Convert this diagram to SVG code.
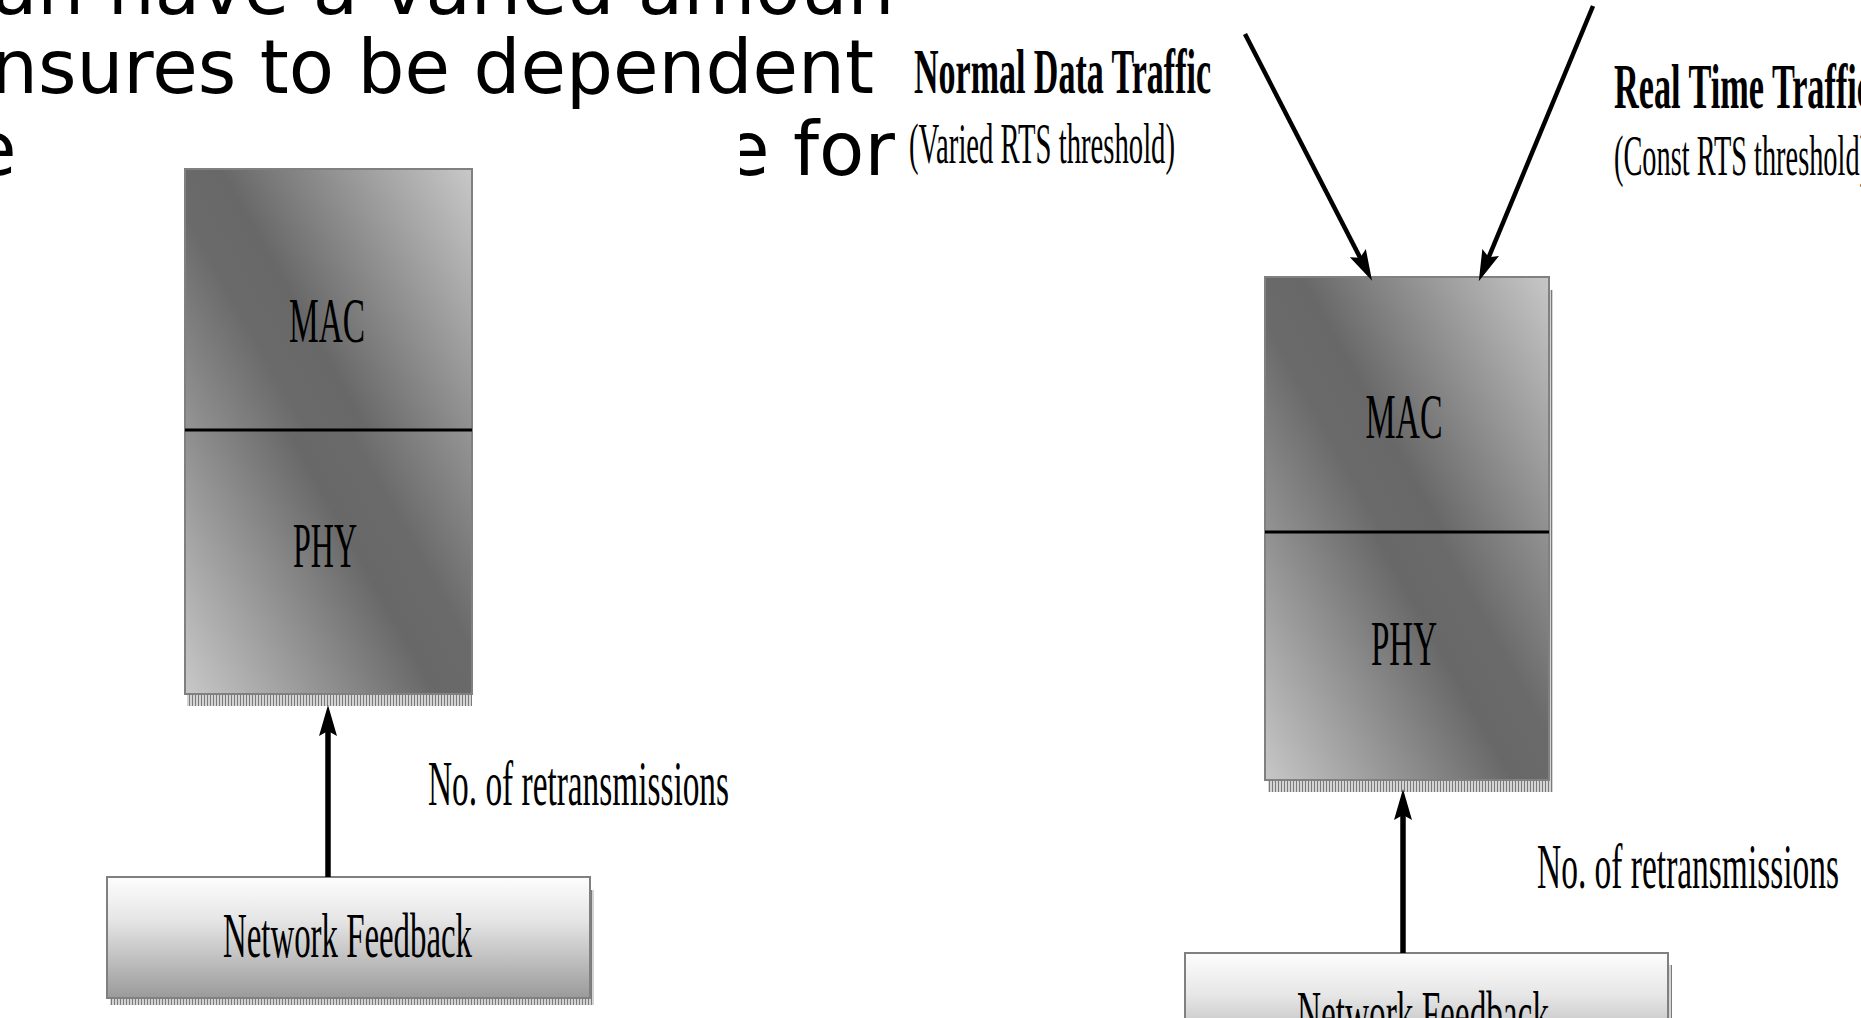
<svg xmlns="http://www.w3.org/2000/svg" width="1861" height="1018" viewBox="0 0 1861 1018">
  <style>
    .body { font-family: "DejaVu Sans", sans-serif; font-size: 74px; fill: #000; }
    .lbl { font-family: "Liberation Serif", "Times New Roman", serif; font-size: 64px; fill: #000; }
    .sub { font-size: 57px; }
    .bold { font-weight: bold; }
    .box { stroke: #808080; stroke-width: 2; }
    .divider { stroke: #000; stroke-width: 3; }
    .conn { stroke: #000; fill: none; stroke-linecap: butt; }
    .shadow { fill: url(#hatch); }
  </style>
  <defs>
    <!-- MAC/PHY stack shading: broad dark diagonal band, light towards one corner -->
    <linearGradient id="gMacL" gradientUnits="userSpaceOnUse" x1="74" y1="231" x2="404" y2="47">
      <stop offset="0" stop-color="#959595"/>
      <stop offset="0.28" stop-color="#6a6a6a"/>
      <stop offset="0.42" stop-color="#686868"/>
      <stop offset="1" stop-color="#c8c8c8"/>
    </linearGradient>
    <linearGradient id="gPhyL" gradientUnits="userSpaceOnUse" x1="583" y1="632" x2="253" y2="816">
      <stop offset="0" stop-color="#959595"/>
      <stop offset="0.28" stop-color="#6a6a6a"/>
      <stop offset="0.42" stop-color="#686868"/>
      <stop offset="1" stop-color="#c8c8c8"/>
    </linearGradient>
    <linearGradient id="gMacR" gradientUnits="userSpaceOnUse" x1="1154" y1="339" x2="1484" y2="155">
      <stop offset="0" stop-color="#959595"/>
      <stop offset="0.28" stop-color="#6a6a6a"/>
      <stop offset="0.42" stop-color="#686868"/>
      <stop offset="1" stop-color="#c8c8c8"/>
    </linearGradient>
    <linearGradient id="gPhyR" gradientUnits="userSpaceOnUse" x1="1660" y1="718" x2="1330" y2="902">
      <stop offset="0" stop-color="#959595"/>
      <stop offset="0.28" stop-color="#6a6a6a"/>
      <stop offset="0.42" stop-color="#686868"/>
      <stop offset="1" stop-color="#c8c8c8"/>
    </linearGradient>
    <!-- feedback box: white top fading to grey -->
    <linearGradient id="gFeed" x1="0" y1="0" x2="0" y2="1">
      <stop offset="0" stop-color="#fdfdfd"/>
      <stop offset="0.35" stop-color="#e6e6e6"/>
      <stop offset="1" stop-color="#9a9a9a"/>
    </linearGradient>
    <!-- fine striped drop shadow -->
    <pattern id="hatch" width="3" height="3" patternUnits="userSpaceOnUse">
      <rect width="3" height="3" fill="#d4d4d4"/>
      <rect width="1" height="3" fill="#7a7a7a"/>
    </pattern>
    <marker id="head" markerUnits="userSpaceOnUse" markerWidth="34" markerHeight="22" viewBox="0 -11 34 22" refX="20" refY="0" orient="auto">
      <path d="M0,-9 L31,0 L0,9 L5,0 Z" fill="#000"/>
    </marker>
    <clipPath id="clipFor">
      <rect x="740" y="100" width="200" height="100"/>
    </clipPath>
  </defs>

  <!-- running text behind the figure -->
  <g id="body-text">
    <text class="body" x="-8" y="14">an have a varied amoun</text>
    <text class="body" x="-9" y="93">nsures to be dependent</text>
    <text class="body" x="-29" y="175">e</text>
    <text class="body" x="724" y="175" clip-path="url(#clipFor)">e for</text>
  </g>

  <!-- left stack -->
  <g id="stack-left">
    <rect class="shadow" x="187" y="694" width="285" height="12"/>
    <rect class="box" x="185" y="169" width="287" height="261" fill="url(#gMacL)"/>
    <rect class="box" x="185" y="430" width="287" height="264" fill="url(#gPhyL)"/>
    <line class="divider" x1="185" y1="430" x2="472" y2="430"/>
    <text class="lbl" x="327" y="342" text-anchor="middle" textLength="76" lengthAdjust="spacingAndGlyphs">MAC</text>
    <text class="lbl" x="325" y="567" text-anchor="middle" textLength="64" lengthAdjust="spacingAndGlyphs">PHY</text>
  </g>

  <g id="feedback-left">
    <rect class="shadow" x="110" y="998" width="483" height="7"/>
    <rect class="shadow" x="590" y="890" width="4" height="115"/>
    <rect class="box" x="107" y="877" width="483" height="121" fill="url(#gFeed)"/>
    <text class="lbl" x="223" y="957" textLength="249" lengthAdjust="spacingAndGlyphs">Network Feedback</text>
  </g>

  <g id="label-retx-left">
    <text class="lbl" x="428" y="805" textLength="301" lengthAdjust="spacingAndGlyphs">No. of retransmissions</text>
  </g>

  <!-- traffic labels -->
  <g id="label-normal">
    <text class="lbl bold" x="914" y="93" textLength="297" lengthAdjust="spacingAndGlyphs">Normal Data Traffic</text>
    <text class="lbl sub" x="909" y="163" textLength="266" lengthAdjust="spacingAndGlyphs">(Varied RTS threshold)</text>
  </g>
  <g id="label-realtime">
    <text class="lbl bold" x="1614" y="108" textLength="258" lengthAdjust="spacingAndGlyphs">Real Time Traffic</text>
    <text class="lbl sub" x="1614" y="175" textLength="255" lengthAdjust="spacingAndGlyphs">(Const RTS threshold)</text>
  </g>

  <!-- right stack -->
  <g id="stack-right">
    <rect class="shadow" x="1268" y="780" width="285" height="12"/>
    <rect class="shadow" x="1549" y="290" width="4" height="502"/>
    <rect class="box" x="1265" y="277" width="284" height="255" fill="url(#gMacR)"/>
    <rect class="box" x="1265" y="532" width="284" height="248" fill="url(#gPhyR)"/>
    <line class="divider" x1="1265" y1="532" x2="1549" y2="532"/>
    <text class="lbl" x="1404" y="438" text-anchor="middle" textLength="77" lengthAdjust="spacingAndGlyphs">MAC</text>
    <text class="lbl" x="1404" y="665" text-anchor="middle" textLength="66" lengthAdjust="spacingAndGlyphs">PHY</text>
  </g>

  <g id="feedback-right">
    <rect class="shadow" x="1668" y="965" width="4" height="60"/>
    <rect class="box" x="1185" y="953" width="483" height="121" fill="url(#gFeed)"/>
    <text class="lbl" x="1297" y="1035" textLength="252" lengthAdjust="spacingAndGlyphs">Network Feedback</text>
  </g>

  <g id="label-retx-right">
    <text class="lbl" x="1537" y="888" textLength="302" lengthAdjust="spacingAndGlyphs">No. of retransmissions</text>
  </g>

  <!-- connectors -->
  <g id="connectors">
    <path class="conn" stroke-width="5.5" d="M328,877 L328,716" marker-end="url(#head)"/>
    <path class="conn" stroke-width="5.5" d="M1403,953 L1403,800" marker-end="url(#head)"/>
    <path class="conn" stroke-width="4.5" d="M1245,34 L1367,271" marker-end="url(#head)"/>
    <path class="conn" stroke-width="4.5" d="M1593,6 L1483,271" marker-end="url(#head)"/>
  </g>
</svg>
